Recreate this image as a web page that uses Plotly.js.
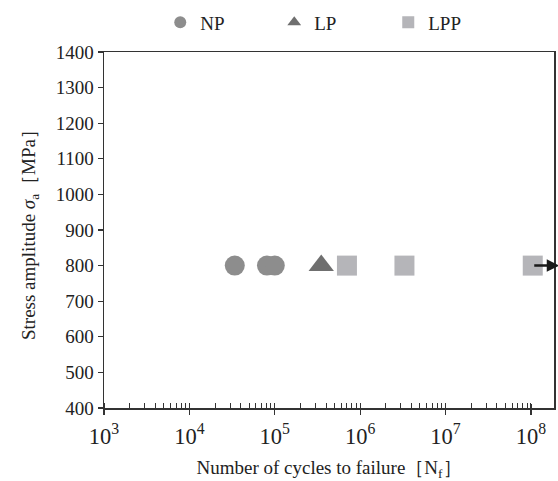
<!DOCTYPE html>
<html>
<head>
<meta charset="utf-8">
<script src="https://cdn.plot.ly/plotly-3.0.1.min.js"></script>
<style>html,body{margin:0;padding:0;background:#fff;}</style>
</head>
<body>
<div id="chart" style="width:558px;height:481px;"></div>
<script>
// Data
const seriesNames = ["NP", "LP", "LPP"];
const npCycles = [3.4e4, 8.1e4, 1.0e5];
const npStress = [800, 800, 800];
const lpCycles = [3.5e5];
const lpStress = [800];
const lppCycles = [7.0e5, 3.3e6, 1.05e8];
const lppStress = [800, 800, 800];
const runoutIndex = 2; // last LPP point is a run-out (arrow)
const yTicks = [400, 500, 600, 700, 800, 900, 1000, 1100, 1200, 1300, 1400];

const FONT = "Liberation Serif";
const INK = "#222";

const traces = [
  {x: npCycles, y: npStress, name: seriesNames[0], mode: "markers", type: "scatter",
   marker: {symbol: "circle", size: 20, color: "#8d8d8d"}},
  {x: lpCycles, y: lpStress, name: seriesNames[1], mode: "markers", type: "scatter",
   marker: {symbol: "triangle-up", size: 22, color: "#6f6f6f"}},
  {x: lppCycles, y: lppStress, name: seriesNames[2], mode: "markers", type: "scatter",
   marker: {symbol: "square", size: 20, color: "#b5b5b9"}}
];

const runX = Math.log10(lppCycles[runoutIndex]);
const runY = lppStress[runoutIndex];

const layout = {
  width: 558, height: 481,
  margin: {l: 104, r: 4, t: 51, b: 73},
  paper_bgcolor: "#fff", plot_bgcolor: "#fff",
  font: {family: FONT, size: 19, color: INK},
  showlegend: true,
  legend: {orientation: "h", x: 0.125, xanchor: "left", y: 1.08, yanchor: "middle",
           font: {family: FONT, size: 19, color: INK}, entrywidth: 69, entrywidthmode: "pixels",
           itemsizing: "constant", bgcolor: "rgba(0,0,0,0)"},
  xaxis: {
    type: "log", range: [3, 8.27], dtick: 1, exponentformat: "power", showexponent: "all",
    showline: true, linecolor: "#333", linewidth: 1.5, mirror: true,
    ticks: "outside", ticklen: 5, tickwidth: 1.2, tickcolor: "#333",
    ticklabelstandoff: 3,
    showgrid: false, zeroline: false,
    tickfont: {family: FONT, size: 18, color: INK},
    minor: {ticks: "inside", ticklen: 5, tickwidth: 1, tickcolor: "#333", dtick: "D1", showgrid: false},
    title: {text: "Number of cycles to failure［N<sub>f</sub>］", font: {family: FONT, size: 19, color: INK}, standoff: 15}
  },
  xaxis2: {
    type: "log", range: [3, 8.27], dtick: 1, overlaying: "x", anchor: "y", side: "bottom",
    showline: false, showgrid: false, zeroline: false, showticklabels: false,
    ticks: "inside", ticklen: 4, tickwidth: 1.2, tickcolor: "#333"
  },
  yaxis: {
    range: [400, 1400], tickvals: yTicks, ticktext: yTicks.map(String),
    showline: true, linecolor: "#333", linewidth: 1.5, mirror: true,
    ticks: "outside", ticklen: 5, tickwidth: 1.2, tickcolor: "#333",
    showgrid: false, zeroline: false,
    tickfont: {family: FONT, size: 19, color: INK},
    title: {text: "Stress amplitude <i>σ</i><sub>a</sub>［MPa］", font: {family: FONT, size: 19, color: INK}, standoff: 15}
  },
  annotations: [{
    xref: "x", yref: "y", axref: "x", ayref: "y",
    x: runX + 0.31, y: runY, ax: runX, ay: runY,
    showarrow: true, arrowhead: 2, arrowsize: 1, arrowwidth: 2.5, arrowcolor: "#1a1a1a", text: ""
  }]
};

traces.push({x: [1e3], y: [null], xaxis: "x2", yaxis: "y", showlegend: false, hoverinfo: "skip", mode: "markers"});

Plotly.newPlot("chart", traces, layout, {displayModeBar: false, staticPlot: true});
</script>
</body>
</html>
